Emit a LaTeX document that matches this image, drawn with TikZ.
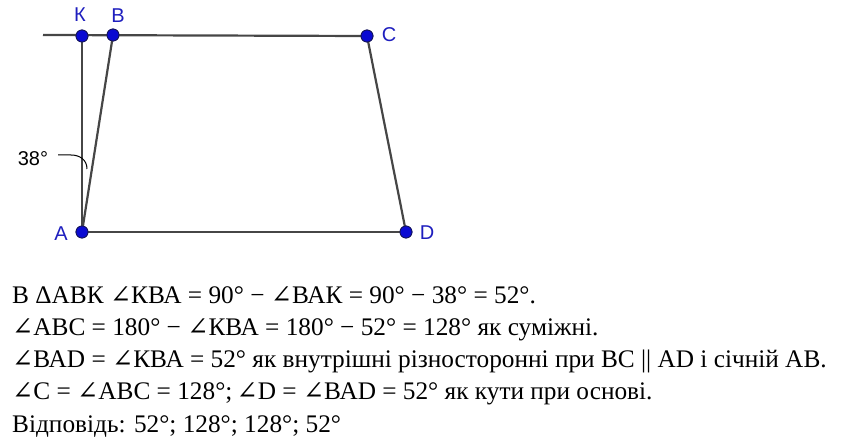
\documentclass[tikz,border=0pt]{standalone}
\usepackage{fontspec}
\setmainfont{Liberation Serif}
\setsansfont{Liberation Sans}
\newfontfamily\symfont{DejaVu Serif}
\newcommand{\angl}{{\symfont ∠}}
\definecolor{ptblue}{RGB}{10,10,210}
\definecolor{ptedge}{RGB}{20,20,90}
\definecolor{lblblue}{RGB}{30,30,190}
\definecolor{segcol}{RGB}{70,70,70}
\tikzset{
  pt/.style={circle,fill=ptblue,draw=ptedge,line width=0.8pt,inner sep=0pt,minimum size=12pt},
  lbl/.style={text=lblblue,font=\sffamily\fontsize{20}{22}\selectfont,inner sep=0pt},
  seg/.style={draw=segcol,line width=2.2pt},
  txt/.style={anchor=base west,inner sep=0pt,font=\fontsize{25.3}{30}\selectfont}
}
\begin{document}
\begin{tikzpicture}[x=1pt,y=-1pt]
\useasboundingbox (0,0) rectangle (847,441);

\coordinate (L) at (43,35);
\node[pt] (K) at (82,36) {};
\node[pt] (B) at (113,35) {};
\node[pt] (C) at (367,36) {};
\node[pt] (D) at (406,232) {};
\node[pt] (A) at (82,232) {};

\draw[seg] (L) -- (C.center);
\draw[seg] (K.center) -- (A.center);
\draw[seg] (A.center) -- (B.center);
\draw[seg] (C.center) -- (D.center);
\draw[seg] (A.center) -- (D.center);
% dots again on top of the segments
\node[pt] at (K) {};
\node[pt] at (B) {};
\node[pt] at (C) {};
\node[pt] at (D) {};
\node[pt] at (A) {};

\node[lbl] (lK) at (80,15) {К};
\node[lbl] (lB) at (118,16) {B};
\node[lbl] (lC) at (389,35) {C};
\node[lbl] (lA) at (61,234) {A};
\node[lbl] (lD) at (427,233) {D};

% angle mark
\node[font=\sffamily\fontsize{20}{22}\selectfont,inner sep=0pt] (ang) at (33,159) {38°};
\coordinate (m1) at (58,155);
\coordinate (m2) at (87,169);
\draw[line width=1pt] (m1) -- (71,155) .. controls (80,155) and (87,160) .. (m2);

\node[txt] (t1) at (12,303) {В ΔАВК \angl КВА = 90° − \angl ВАК = 90° − 38° = 52°.};
\node[txt] (t2) at (12,335) {\angl АВС = 180° − \angl КВА = 180° − 52° = 128° як суміжні.};
\node[txt] (t3) at (12,367) {\angl ВАD = \angl КВА = 52° як внутрішні різносторонні при ВС || АD і січній АВ.};
\node[txt] (t4) at (12,399) {\angl С = \angl АВС = 128°;\,\angl D = \angl ВАD = 52° як кути при основі.};
\node[txt] (t5) at (12,432) {Відповідь: 52°; 128°; 128°; 52°};
\end{tikzpicture}
\end{document}
